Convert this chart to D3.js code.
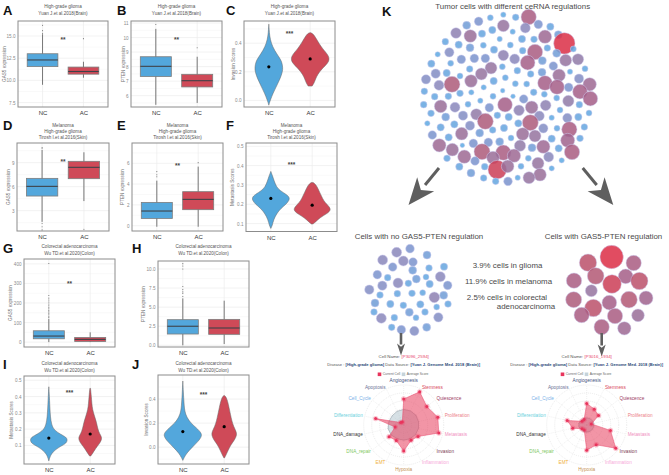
<!DOCTYPE html>
<html><head><meta charset="utf-8">
<script src="https://cdn.jsdelivr.net/npm/d3@7"></script>
<style>html,body{margin:0;padding:0;background:#fff}svg{display:block}text{font-family:"Liberation Sans",Arial,sans-serif}</style>
</head><body><div id="c"></div>
<script>
// ---------- data ----------
const groups = ["NC","AC"];
const boxA = [{lo:9.5,q1:11.55,med:12.3,q3:13.0,hi:15.2,out:[15.3,15.6,16.2]},{lo:10.3,q1:10.7,med:11.0,q3:11.5,hi:12.1,out:[14.7]}];
const boxB = [{lo:5.37,q1:7.32,med:8.02,q3:8.68,hi:10.6,out:[10.9]},{lo:5.5,q1:6.6,med:7.03,q3:7.47,hi:8.68,out:[9.3]}];
const boxD = [{lo:1.6,q1:4.83,med:6.04,q3:7.04,hi:10.6,out:[10.8,10.9,1.4,1.0,0.6]},{lo:4.2,q1:7.0,med:8.42,q3:9.17,hi:10.3,out:[0.67]}];
const boxE = [{lo:-0.1,q1:0.7,med:1.41,q3:2.24,hi:4.33,out:[4.7,4.9,5.2]},{lo:-0.1,q1:1.54,med:2.53,q3:3.27,hi:5.68,out:[6.06]}];
const boxG = [{lo:0,q1:17,med:31,q3:58,hi:118,out:[125,132,140,148,155,162,170,178,186,195,205,215,225,238,402]},{lo:0,q1:3,med:14,q3:24,hi:50,out:[]}];
const boxH = [{lo:0,q1:1.48,med:2.5,q3:3.36,hi:6.15,out:[6.4,6.8,7.0,7.3,7.7,10.0,10.4,10.7]},{lo:0.17,q1:1.44,med:2.27,q3:3.4,hi:5.85,out:[]}];

const violinC = [{mean:.235,v:[-.033,0,.05,.1,.15,.2,.23,.27,.3,.35,.4,.45,.5,.533],d:[0,.1,.3,.55,.8,.98,1,.93,.75,.4,.17,.06,.02,0],peak:14},
                 {mean:.29,v:[.1,.12,.15,.18,.22,.26,.29,.32,.36,.4,.44,.468,.474],d:[.1,.2,.28,.38,.6,.92,1,.92,.65,.45,.28,.14,0],peak:19.3}];
const violinF = [{mean:.23,v:[.075,.09,.12,.15,.18,.2,.22,.235,.25,.27,.29,.32,.35,.37],d:[0,.08,.15,.3,.55,.82,.98,1,.85,.5,.3,.18,.08,0],peak:18.7},
                 {mean:.195,v:[.098,.11,.13,.15,.165,.18,.2,.22,.24,.26,.28,.3,.312],d:[.05,.2,.42,.78,.98,1,.8,.62,.52,.42,.32,.22,.06],peak:18.3}];
const violinI = [{mean:.145,v:[.005,.03,.06,.09,.11,.13,.15,.17,.19,.21,.25,.3,.35,.4,.46],d:[0,.06,.2,.55,.9,1,.95,.6,.35,.2,.11,.07,.05,.03,0],peak:18.7},
                 {mean:.17,v:[.035,.05,.08,.11,.13,.15,.17,.2,.24,.28,.32,.36,.4,.45],d:[.05,.2,.45,.78,.95,1,.82,.65,.55,.37,.2,.14,.1,.03],peak:11.7}];
const violinJ = [{mean:.13,v:[-.11,-.09,-.05,0,.05,.09,.12,.16,.2,.25,.3,.35,.4,.45,.55],d:[0,.06,.2,.5,.82,1,.97,.72,.42,.2,.1,.07,.05,.03,0],peak:19},
                 {mean:.17,v:[-.09,-.07,-.03,.02,.06,.1,.13,.17,.22,.27,.33,.38,.42,.43],d:[.02,.12,.3,.52,.82,1,.95,.75,.6,.5,.38,.28,.14,.02],peak:12.7}];

const ticksA=[7.5,10,12.5,15], ticksB=[6,7,8,9,10,11], ticksC=[0,.2,.4], ticksD=[3,6,9], ticksE=[0,2,4,6],
      ticksF=[.1,.2,.3,.4,.5], ticksG=[0,100,200,300,400], ticksH=[0,2.5,5,7.5,10], ticksI=[.1,.2,.3,.4,.5], ticksJ=[0,.2,.4];

const cellsX=[536,460,421,497,386,350,460,526,565,601,318,361,396,427,488,585,625,643,286,326,360,400,449,481,516,552,555,592,432,518,263,298,334,373,406,460,494,533,577,620,670,647,684,244,302,359,423,457,502,542,576,610,660,705,257,290,330,394,228,267,306,363,431,466,496,530,585,627,621,687,719,656,223,254,295,330,364,401,458,551,583,690,721,429,489,521,620,221,272,315,354,391,465,418,507,545,587,655,688,630,717,243,287,339,379,442,476,406,568,605,652,685,232,272,313,360,505,541,462,428,580,621,658,703,247,296,335,389,518,555,605,653,690,483,268,307,337,370,415,449,510,580,546,626,666,343,396,460,492,429,291,375,535,596,635,564,328,404,442,473,513,605,363,570,537,401,503,437,474];
const cellsY=[51,44,53,52,64,76,77,84,73,80,99,108,101,90,95,110,104,130,125,134,143,136,117,135,117,118,156,144,149,152,163,157,178,175,175,166,177,188,182,160,147,181,178,191,190,207,204,200,212,222,217,198,215,206,221,219,228,222,238,256,253,243,243,233,251,252,249,226,261,236,253,262,274,290,289,280,277,262,272,277,283,275,296,289,289,297,294,314,319,322,313,302,314,323,331,322,316,303,314,330,339,340,351,347,343,346,351,364,348,353,354,351,370,382,373,377,370,368,384,390,385,385,388,381,405,412,401,399,402,408,416,421,415,414,436,449,436,430,427,425,437,440,443,445,456,470,455,458,467,473,475,483,475,471,481,490,500,500,509,499,499,505,519,524,533,534,533,544,544];
const cellsScore=[23,8,9,10,13,12,18,15,13,11,16,19,11,11,8,20,12,32,10,11,12,9,8,9,11,10,23,10,11,10,8,14,13,13,13,16,15,22,12,12,9,18,17,11,9,10,18,9,10,10,12,13,8,9,14,11,9,18,14,15,24,19,11,9,9,9,22,19,22,14,20,13,10,10,10,10,8,8,7,10,9,22,22,9,7,13,9,10,19,15,9,8,22,13,16,19,16,17,10,9,9,10,12,14,17,10,11,24,15,8,14,11,8,11,11,14,11,24,11,10,14,9,23,10,13,11,19,12,19,18,11,21,10,9,20,19,7,13,13,12,17,20,12,11,23,20,24,23,20,19,10,13,9,15,8,18,11,10,28,19,9,8,12,19,18,10,8,10,13];

const noRegX=[155,195,113,175,204,246,143,252,297,97,128,203,243,286,112,159,190,214,254,308,73,105,157,201,233,268,296,90,136,175,226,275,309,87,193,240,109,148,213,280,140,169,208,245];
const noRegY=[172,161,195,198,201,180,216,219,215,239,248,226,246,245,272,264,265,252,267,271,284,300,296,295,293,307,301,324,327,331,328,336,327,351,352,351,370,368,368,367,397,404,408,397];
const noRegScore=[15,13,15,15,13,12,13,10,11,13,10,12,9,15,14,15,10,12,11,13,14,10,10,10,9,16,12,12,11,10,11,9,10,10,12,10,15,10,9,14,10,13,14,12];
const regX=[800,729,866,687,752,842,801,883,739,686,745,793,852,903,710,810,879,770,838];
const regY=[186,203,204,257,243,244,267,258,287,314,339,323,314,309,360,363,361,396,400];
const regScore=[35,26,23,23,25,22,28,26,18,24,26,22,25,21,23,23,19,23,20];

const radarAxes=["Angiogenesis","Stemness","Quiescence","Proliferation","Metastasis","Invasion","Inflammation","Hypoxia","EMT","DNA_repair","DNA_damage","Differentiation","Cell_Cycle","Apoptosis"];
const radar1Cell=[.65,.92,.74,.875,.9,.46,.425,.65,.43,.47,.22,.72,.1,.08];
const radar1Avg=[.39,.39,.39,.38,.38,.38,.38,.38,.38,.4,.4,.38,.37,.38];
const radar2Cell=[.54,.44,.38,.12,.61,.93,.55,.63,.14,.15,.36,.5,.15,.15];
const radar2Avg=[.18,.18,.18,.18,.18,.18,.18,.18,.18,.18,.2,.2,.18,.18];

// ---------- style and layout ----------
const W=669,H=475;
const blue="#53a7dc", red="#cf4a58";
const axisColors=["#3f4f7d","#d9475a","#9c3b5f","#ec7f86","#f08fc0","#7a3b4f","#f7a8d8","#c59050","#efb040","#7dc860","#333333","#69cfdc","#7ab0e8","#6b7396"];
const panels=[
 {id:"A",lx:3,ly:15,x0:18,x1:108,y0:21,y1:107,dom:[7.0,16.69],ticks:ticksA,fmt:".1f",box:boxA,yl:"GAS5 expression",ylx:4.5,title:["High-grade glioma","Yuan J.et al.2018(Brain)"],star:"**",starV:14.6,ty:6.8},
 {id:"B",lx:117,ly:15,x0:131,x1:222,y0:21,y1:107,dom:[5.22,11.14],ticks:ticksB,fmt:"d",box:boxB,yl:"PTEN expression",ylx:123,title:["High-grade glioma","Yuan J.et al.2018(Brain)"],star:"**",starV:9.9,ty:6.8},
 {id:"C",lx:226,ly:15,x0:244,x1:335,y0:21,y1:107,dom:[-.046,.555],ticks:ticksC,fmt:".1f",violin:violinC,yl:"Invasion Scores",ylx:233,title:["High-grade glioma","Yuan J.et al.2018(Brain)"],star:"***",starV:.47,ty:6.8},
 {id:"D",lx:3,ly:130,x0:17,x1:109,y0:143,y1:231,dom:[.46,11.46],ticks:ticksD,fmt:"d",box:boxD,yl:"GAS5 expression",ylx:8,title:["Melanoma","High-grade glioma","Tirosh I.et al.2016(Skin)"],star:"**",starV:9.1,ty:125},
 {id:"E",lx:117,ly:130,x0:132,x1:223,y0:143,y1:231,dom:[-.51,7.95],ticks:ticksE,fmt:"d",box:boxE,yl:"PTEN expression",ylx:122.5,title:["Melanoma","High-grade glioma","Tirosh I.et al.2016(Skin)"],star:"**",starV:5.8,ty:125},
 {id:"F",lx:226,ly:130,x0:246,x1:337,y0:143,y1:231.5,dom:[.059,.517],ticks:ticksF,fmt:".1f",violin:violinF,yl:"Metastasis Scores",ylx:232,title:["Melanoma","High-grade glioma","Tirosh I.et al.2016(Skin)"],star:"***",starV:.405,ty:125},
 {id:"G",lx:3,ly:253,x0:24,x1:115,y0:259,y1:347,dom:[-25,425],ticks:ticksG,fmt:"d",box:boxG,yl:"GAS5 expression",ylx:10.5,title:["Colorectal adenocarcinoma","Wu TD.et al.2020(Colon)"],star:"**",starV:300,ty:246.8},
 {id:"H",lx:132,ly:253,x0:158,x1:249,y0:261,y1:347,dom:[-.22,11.05],ticks:ticksH,fmt:".1f",box:boxH,yl:"PTEN expression",ylx:143,title:["Colorectal adenocarcinoma","Wu TD.et al.2020(Colon)"],ty:246.8},
 {id:"I",lx:3,ly:369,x0:24,x1:115,y0:376,y1:464,dom:[-.014,.526],ticks:ticksI,fmt:".1f",violin:violinI,yl:"Metastasis Scores",ylx:11,title:["Colorectal adenocarcinoma","Wu TD.et al.2020(Colon)"],star:"***",starV:.425,ty:363},
 {id:"J",lx:132,ly:369,x0:158,x1:249,y0:375,y1:464,dom:[-.14,.6],ticks:ticksJ,fmt:".1f",violin:violinJ,yl:"Invasion Scores",ylx:146,title:["Colorectal adenocarcinoma","Wu TD.et al.2020(Colon)"],star:"***",starV:.44,ty:363}
];

const svg=d3.select("#c").append("svg").attr("width",W).attr("height",H);

function label(t,x,y,o={}){
  return svg.append("text").attr("x",x).attr("y",y).text(t)
    .attr("font-size",o.size||7.9).attr("fill",o.fill||"#4a4a4a")
    .attr("text-anchor",o.anchor||"middle").attr("font-weight",o.weight||"normal");
}

panels.forEach(p=>{
  const g=svg.append("g");
  const y=d3.scaleLinear().domain(p.dom).range([p.y1,p.y0]);
  const x=d3.scalePoint().domain(groups).range([p.x0,p.x1]).padding(.6);
  const step=x.step();
  const minor=p.ticks.slice(1).map((t,i)=>(t+p.ticks[i])/2).concat([p.ticks[0]-(p.ticks[1]-p.ticks[0])/2,p.ticks[p.ticks.length-1]+(p.ticks[1]-p.ticks[0])/2]).filter(v=>v>p.dom[0]&&v<p.dom[1]);
  g.selectAll(".mg").data(minor).join("line").attr("x1",p.x0).attr("x2",p.x1).attr("y1",d=>y(d)).attr("y2",d=>y(d)).attr("stroke","#f3f3f3").attr("stroke-width",.5);
  g.selectAll(".gy").data(p.ticks).join("line").attr("x1",p.x0).attr("x2",p.x1).attr("y1",d=>y(d)).attr("y2",d=>y(d)).attr("stroke","#ececec").attr("stroke-width",.7);
  g.selectAll(".gx").data(groups).join("line").attr("x1",d=>x(d)).attr("x2",d=>x(d)).attr("y1",p.y0).attr("y2",p.y1).attr("stroke","#ececec").attr("stroke-width",.7);
  const cols=[blue,red];
  if(p.box){
    const bw=step*.75;
    p.box.forEach((b,i)=>{
      const cx=x(groups[i]);
      g.append("line").attr("x1",cx).attr("x2",cx).attr("y1",y(b.lo)).attr("y2",y(b.hi)).attr("stroke","#777").attr("stroke-width",1);
      g.selectAll(null).data(b.out).join("circle").attr("cx",cx).attr("cy",d=>y(d)).attr("r",.55).attr("fill","#777");
      g.append("rect").attr("x",cx-bw/2).attr("width",bw).attr("y",y(b.q3)).attr("height",y(b.q1)-y(b.q3)).attr("fill",cols[i]).attr("stroke","#7d7d7d").attr("stroke-width",.8);
      g.append("line").attr("x1",cx-bw/2).attr("x2",cx+bw/2).attr("y1",y(b.med)).attr("y2",y(b.med)).attr("stroke","#3f4248").attr("stroke-width",1.1);
    });
  } else {
    p.violin.forEach((v,i)=>{
      const cx=x(groups[i]);
      const w=d3.scaleLinear().domain([0,1]).range([0,v.peak]);
      const pts=v.v.map((val,k)=>({val,d:v.d[k]}));
      const area=d3.area().y(d=>y(d.val)).x0(d=>cx-w(d.d)).x1(d=>cx+w(d.d)).curve(d3.curveBasis);
      g.append("path").attr("d",area(pts)).attr("fill",cols[i]).attr("stroke","#666").attr("stroke-width",.5);
      g.append("circle").attr("cx",cx).attr("cy",y(v.mean)).attr("r",1.6).attr("fill","#000");
    });
  }
  g.append("rect").attr("x",p.x0).attr("y",p.y0).attr("width",p.x1-p.x0).attr("height",p.y1-p.y0).attr("fill","none").attr("stroke","#8c8c8c").attr("stroke-width",1);
  const ax=g.append("g").attr("transform",`translate(${p.x0},0)`).call(d3.axisLeft(y).tickValues(p.ticks).tickFormat(d3.format(p.fmt)).tickSize(0).tickPadding(2.5));
  ax.select(".domain").remove();
  ax.selectAll("text").attr("font-size",4.6).attr("fill","#8a8a8a").attr("font-family","Liberation Sans");
  const bx=g.append("g").attr("transform",`translate(0,${p.y1})`).call(d3.axisBottom(x).tickSize(0).tickPadding(4));
  bx.select(".domain").remove();
  bx.selectAll("text").attr("font-size",6).attr("fill","#333").attr("font-family","Liberation Sans");
  label(p.id,p.lx,p.ly,{size:13,weight:"bold",fill:"#111",anchor:"start"});
  const lineGap=p.title.length==2?7:6;
  p.title.forEach((t,i)=>label(t,(p.x0+p.x1)/2,p.ty+i*lineGap+1.5,{size:4.6,fill:"#555"}));
  label(p.yl,0,0,{size:4.6,fill:"#6f6f6f"}).attr("transform",`translate(${p.ylx+1.5},${(p.y0+p.y1)/2}) rotate(-90)`).attr("x",0).attr("y",0);
  if(p.star) label(p.star,(p.x0+p.x1)/2,y(p.starV)+2.5,{size:6.5,fill:"#444",weight:"bold"});
});

// ---------- bubble clusters ----------
const colorBy=d3.scaleLinear().domain([7,11,13,15,18,22,25,27,30,35])
  .range(["#5eabe3","#67a5de","#7b94cd","#8a88bb","#96749f","#a55f88","#b35a76","#c5475f","#db3047","#dc2f47"]);
const bubbleR=d3.scaleLinear().domain([0,30]).range([0,10]);
function cluster(xs,ys,ss,dx,dy){
  const px=d3.scaleLinear().domain([0,300]).range([dx,dx+100]);
  const py=d3.scaleLinear().domain([0,300]).range([dy,dy+100]);
  svg.append("g").selectAll("circle").data(xs.map((x,i)=>({x,y:ys[i],s:ss[i]}))).join("circle")
    .attr("cx",d=>px(d.x)).attr("cy",d=>py(d.y)).attr("r",d=>bubbleR(d.s))
    .attr("fill",d=>colorBy(d.s)).attr("fill-opacity",.86).attr("stroke","#cfcdf0").attr("stroke-width",.5);
}
cluster(cellsX,cellsY,cellsScore,350,0);
cluster(noRegX,noRegY,noRegScore,345,195);
cluster(regX,regY,regScore,345,195);

// ---------- texts K ----------
label("K",382,16,{size:13,weight:"bold",fill:"#111",anchor:"start"});
label("Tumor cells with different ceRNA regulations",512.7,8.5);
label("Cells with no GAS5-PTEN regulation",419,238.5);
label("Cells with GAS5-PTEN regulation",603.5,238.5);
label("3.9% cells in glioma",507.5,267.5);
label("11.9% cells in melanoma",508.5,283.5);
label("2.5% cells in colorectal",507,299.5);
label("adenocarcinoma",526,309);

// ---------- arrows ----------
const arrowLine=d3.line();
function arrow(x1,y1,x2,y2,w,hl,hw){
  const a=Math.atan2(y2-y1,x2-x1),ux=Math.cos(a),uy=Math.sin(a),nx=-uy,ny=ux;
  const bx=x2-ux*hl,by=y2-uy*hl;
  svg.append("line").attr("x1",x1).attr("y1",y1).attr("x2",bx+ux).attr("y2",by+uy).attr("stroke","#5f5f5f").attr("stroke-width",w);
  const nb=hl*.72, cx=x2-ux*nb, cy=y2-uy*nb;
  svg.append("path").attr("d",arrowLine([[x2,y2],[bx+nx*hw,by+ny*hw],[cx,cy],[bx-nx*hw,by-ny*hw]])+"Z").attr("fill","#5f5f5f");
}
arrow(439,168,408.5,205,3,27,11);
arrow(582.7,168,613.3,205,3,27,11);
arrow(401,333,401,355.5,2.6,12,4);
arrow(601.7,333,601.7,356.5,2.6,12,4);

// ---------- radars ----------
function radar(cx,cy,cell,avg,name){
  const g=svg.append("g").attr("transform",`translate(${cx},${cy})`);
  const r=d3.scaleLinear().domain([0,1]).range([0,40]);
  const ang=d3.scalePoint().domain(radarAxes).range([0,2*Math.PI*13/14]);
  [.2,.4,.6,.8,1].forEach(v=>g.append("circle").attr("r",r(v)).attr("fill","none").attr("stroke","#d4d4d4").attr("stroke-width",.45).attr("stroke-dasharray","1 1"));
  radarAxes.forEach(a=>g.append("line").attr("x2",r(1)*Math.sin(ang(a))).attr("y2",-r(1)*Math.cos(ang(a))).attr("stroke","#dcdcdc").attr("stroke-width",.4).attr("stroke-dasharray","1 1"));
  const rad=d3.lineRadial().angle(d=>ang(d.a)).radius(d=>r(d.v)).curve(d3.curveLinearClosed);
  const rows=vals=>radarAxes.map((a,i)=>({a,v:vals[i]}));
  g.append("path").attr("d",rad(rows(avg))).attr("fill","#9db4c0").attr("fill-opacity",.42).attr("stroke","#6d7b85").attr("stroke-width",.4);
  g.append("path").attr("d",rad(rows(cell))).attr("fill","#e83e5c").attr("fill-opacity",.55).attr("stroke","#e8466a").attr("stroke-width",.5);
  rows(cell).forEach(d=>{
    const px=r(d.v)*Math.sin(ang(d.a)),py=-r(d.v)*Math.cos(ang(d.a));
    g.append("circle").attr("cx",px).attr("cy",py).attr("r",2.7).attr("fill","#ee3a63").attr("fill-opacity",.3);
    g.append("circle").attr("cx",px).attr("cy",py).attr("r",1.5).attr("fill","#e8345c");
  });
  radarAxes.forEach((a,i)=>{
    const th=ang(a),s=Math.sin(th),c=Math.cos(th);
    const anchor=Math.abs(s)<.01?"middle":s>0?"start":"end";
    const extra=i==0?-2.5:i==7?2.5:0;
    g.append("text").attr("x",42*s).attr("y",-42*c+1.6+extra).text(a).attr("text-anchor",anchor)
      .attr("font-size",4.7).attr("fill",axisColors[i]).attr("font-family","Open Sans");
  });
  const t1=svg.append("text").attr("x",cx).attr("y",cy-67.5).attr("text-anchor","middle").attr("font-size",4.4).attr("font-family","Open Sans").attr("fill","#555");
  t1.append("tspan").text("Cell Name: ");
  t1.append("tspan").text("["+name+"]").attr("fill","#e8456a");
  const t2=svg.append("text").attr("x",cx).attr("y",cy-59.5).attr("text-anchor","middle").attr("font-size",4.1).attr("font-family","Open Sans").attr("fill","#555");
  t2.append("tspan").text("Disease : ");
  t2.append("tspan").text("[High-grade glioma]").attr("fill","#2c4a78").attr("font-weight","600");
  t2.append("tspan").text(" Data Source: ");
  t2.append("tspan").text("[Yuan J. Genome Med. 2018 (Brain)]").attr("fill","#2c4a78").attr("font-weight","600");
  [["Current Cell","#e8345c",-26],["Average Score","#c5d3da",-2]].forEach(l=>{
    svg.append("rect").attr("x",cx+l[2]).attr("y",cy-52.5).attr("width",3.6).attr("height",3.6).attr("fill",l[1]);
    svg.append("text").attr("x",cx+l[2]+5).attr("y",cy-49.6).text(l[0]).attr("font-size",3.3).attr("font-family","Open Sans").attr("fill","#666");
  });
}
radar(403.7,425,radar1Cell,radar1Avg,"P3096_2594");
radar(586.7,425,radar2Cell,radar2Avg,"P3016_1934");
</script></body></html>
